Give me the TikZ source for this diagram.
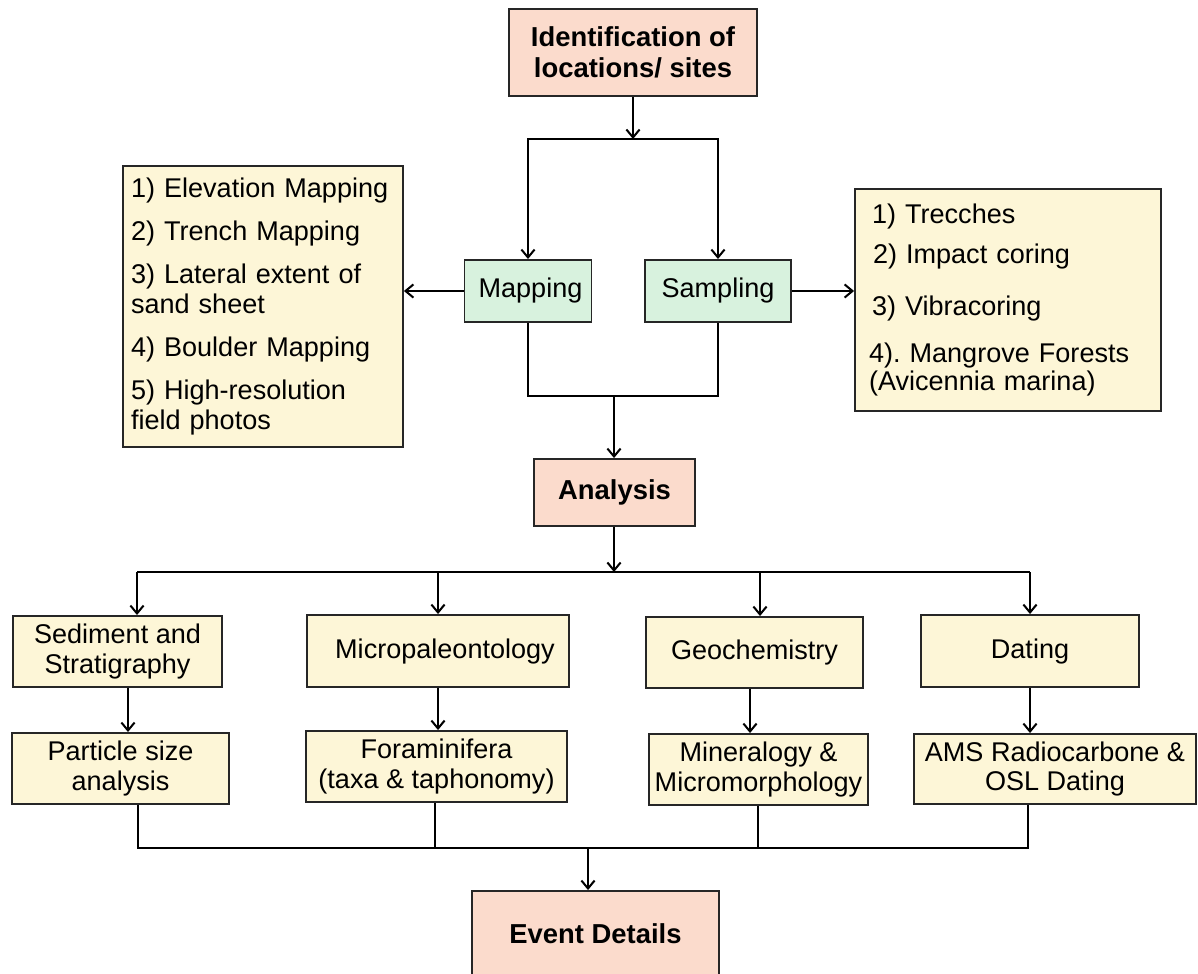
\documentclass[tikz,border=0pt]{standalone}
\usepackage{fontspec}
\setmainfont{Liberation Sans}
\usetikzlibrary{arrows.meta}
\definecolor{peach}{RGB}{251,219,204}
\definecolor{mint}{RGB}{216,242,222}
\definecolor{cream}{RGB}{253,246,215}
\frenchspacing
\begin{document}
\begin{tikzpicture}[x=0.02cm,y=-0.02cm,
  every node/.style={font=\fontsize{15.4}{17}\selectfont},
  box/.style={draw=black!85,line width=1.1pt,inner sep=0pt,align=center},
  head/.style={box,fill=peach,font=\fontsize{15.6}{17.5}\selectfont\bfseries},
  task/.style={box,fill=mint},
  item/.style={box,fill=cream},
  list/.style={draw=black!85,line width=1.1pt,fill=cream,align=left,inner ysep=0pt},
  arr/.style={-{Straight Barb[length=4.5pt,width=7.5pt]},line width=1.15pt},link/.style={line width=1.15pt}]
 \useasboundingbox (0,0) rectangle (1198,974);
 % field stage
 \node[head,minimum width=4.96cm,minimum height=1.74cm] (site) at (633,52.5) {Identification of\\locations/ sites};
 \node[task,minimum width=2.54cm,minimum height=1.24cm] (map) at (528,291) {\hspace*{0.1cm}Mapping};
 \node[task,minimum width=2.92cm,minimum height=1.24cm] (samp) at (718,291) {Sampling};
 \node[list,inner xsep=0.16cm,text width=5.28cm,minimum height=5.62cm] (mlist) at (263,306.5)
  {1) Elevation Mapping\\[7.5pt]2) Trench Mapping\\[7.5pt]3) Lateral extent of\\sand sheet\\[7.5pt]4) Boulder Mapping\\[7.5pt]5) High-resolution\\field photos};
 \node[list,inner xsep=0.28cm,text width=5.56cm,minimum height=4.44cm] (slist) at (1008,300)
  {\hspace*{0.06cm}1) Trecches\\[5.9pt]\hspace*{0.08cm}2) Impact coring\\[12.4pt]\hspace*{0.06cm}3) Vibracoring\\[9.9pt]4). Mangrove Forests\\[-1.2pt](Avicennia marina)};
 \node[head,minimum width=3.22cm,minimum height=1.34cm] (ana) at (614.5,492.5) {Analysis};
 % lab stage
 \node[item,minimum width=4.18cm,minimum height=1.42cm] (sed) at (117.5,651.5) {Sediment and\\Stratigraphy};
 \node[item,minimum width=5.24cm,minimum height=1.44cm] (micro) at (438,651) {\hspace*{0.28cm}Micropaleontology};
 \node[item,minimum width=4.34cm,minimum height=1.42cm] (geo) at (754.5,652.5) {Geochemistry};
 \node[item,minimum width=4.36cm,minimum height=1.44cm] (dat) at (1030,651) {Dating};
 \node[item,minimum width=4.34cm,minimum height=1.42cm] (part) at (120.5,768.5) {Particle size\\analysis};
 \node[item,minimum width=5.22cm,minimum height=1.42cm] (fora) at (436.5,766.5) {Foraminifera\\(taxa \& taphonomy)};
 \node[item,minimum width=4.38cm,minimum height=1.42cm] (mine) at (758.5,769.5) {Mineralogy \&\\Micromorphology};
 \node[item,minimum width=5.64cm,minimum height=1.40cm] (ams) at (1055,769) {AMS Radiocarbone \&\\OSL Dating};
 \node[head,minimum width=4.94cm,minimum height=1.72cm] (evt) at (595.5,934) {Event Details};
 % junctions
 \coordinate (jA) at (633,139);
 \coordinate (jB) at (614,396);
 \coordinate (jC) at (614,572);
 \coordinate (jD) at (588,848);
 \draw[arr] (site) -- (jA);
 \draw[arr] (jA) -| (map);
 \draw[arr] (jA) -| (samp);
 \draw[link] (map) |- (jB) -| (samp);
 \draw[arr] (jB) -- (jB |- ana.north);
 \draw[arr] (map.west) -- (map.west -| mlist.east);
 \draw[arr] (samp.east) -- (samp.east -| slist.west);
 \draw[arr] (jC |- ana.south) -- (jC);
 \draw[link] (137,0 |- jC) -- (dat.north |- jC);
 \draw[arr] (137,0 |- jC) -- (137,0 |- sed.north);
 \draw[arr] (micro.north |- jC) -- (micro);
 \draw[arr] (760,0 |- jC) -- (760,0 |- geo.north);
 \draw[arr] (dat.north |- jC) -- (dat);
 \draw[arr] (128,0 |- sed.south) -- (128,0 |- part.north);
 \draw[arr] (micro) -- (micro |- fora.north);
 \draw[arr] (750,0 |- geo.south) -- (750,0 |- mine.north);
 \draw[arr] (dat) -- (dat |- ams.north);
 \draw[link] (138,0 |- part.south) |- (jD) -| (1028,0 |- ams.south);
 \draw[link] (435,0 |- fora.south) -- (435,0 |- jD);
 \draw[link] (758,0 |- mine.south) -- (758,0 |- jD);
 \draw[arr] (jD) -- (jD |- evt.north);
\end{tikzpicture}
\end{document}
